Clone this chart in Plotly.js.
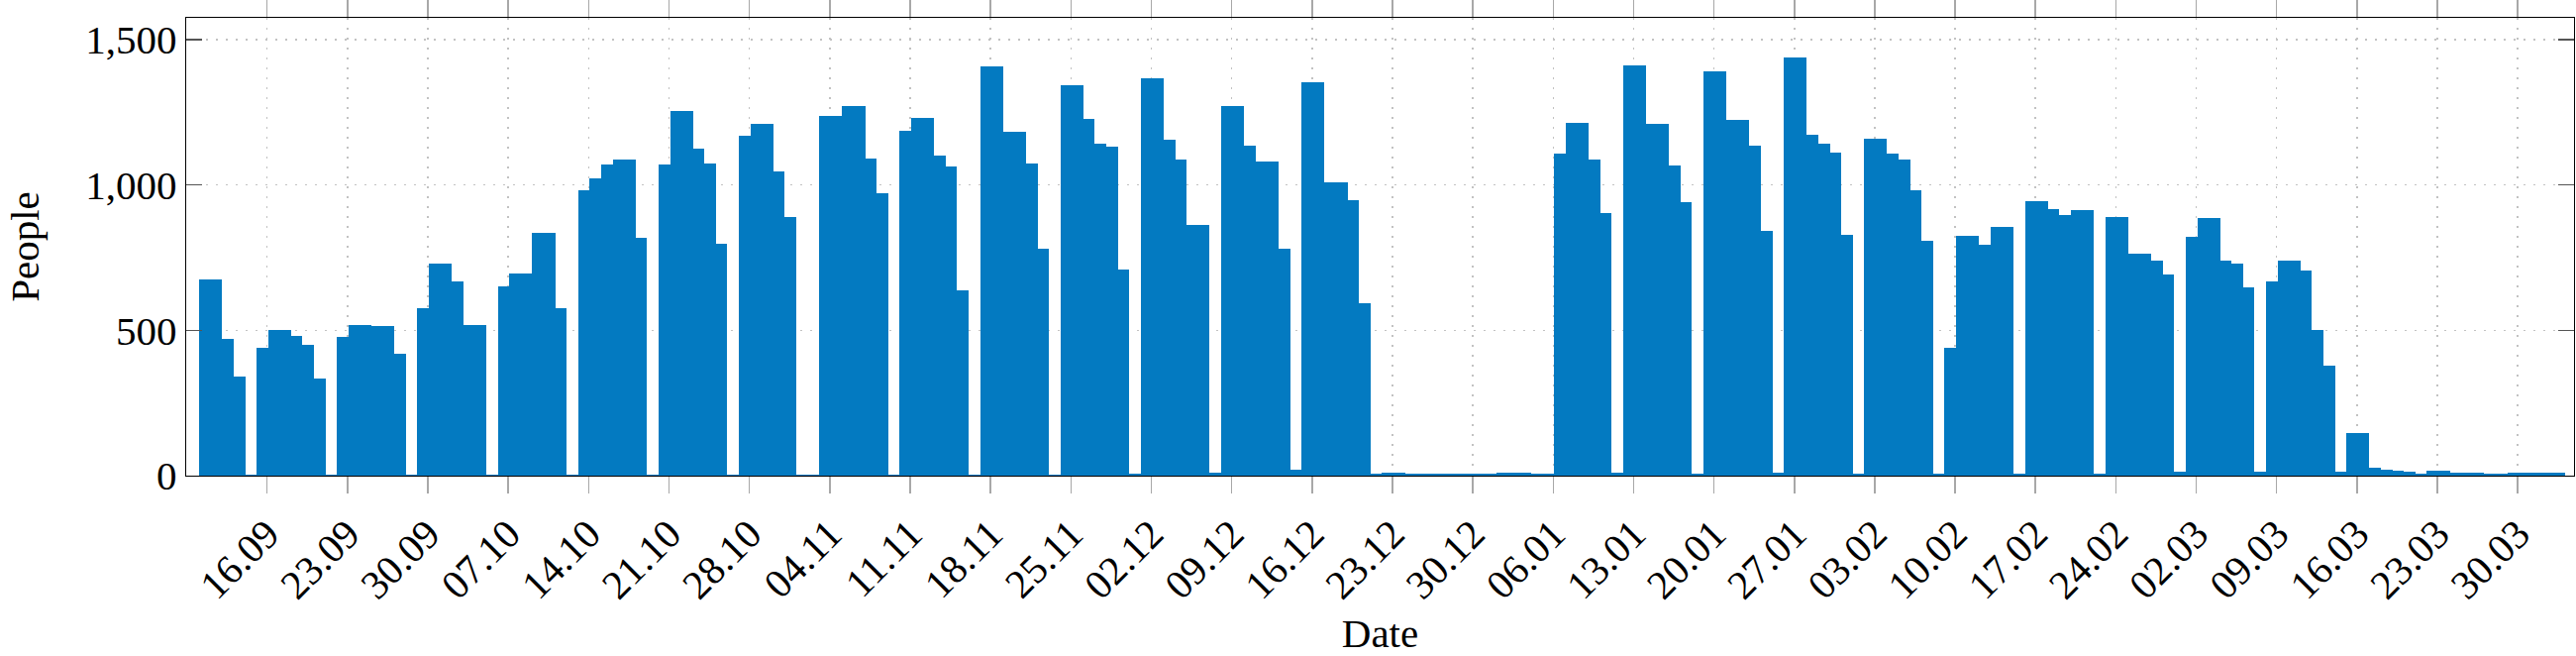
<!DOCTYPE html>
<html>
<head>
<meta charset="utf-8">
<script src="https://cdn.plot.ly/plotly-3.0.1.min.js"></script>
<style>
  html, body { margin: 0; padding: 0; background: #fff; }
  #chart { width: 2601px; height: 662px; }
</style>
</head>
<body>
<div id="chart"></div>
<script>
// Daily values (people)
const sep2019Start = '2019-09-10';
const sep2019 = [675,675,471,342,5,441,500,500,480,451,335,5,476,517,517,514,514,421,5,575,730];
const oct2019 = [730,667,517,517,5,651,695,695,835,835,576,5,983,1023,1070,1088,1088,819,5,1069,1256,1256,1126,1073,799,5,1170,1211,1211,1045,891];
const nov2019 = [5,5,1236,1236,1273,1273,1091,970,5,1185,1231,1231,1102,1063,636,5,1407,1407,1182,1182,1073,782,5,1343,1343,1226,1141,1131,708,8];
const dec2019 = [1368,1368,1154,1089,863,863,11,1272,1272,1134,1079,1079,779,19,1352,1352,1009,1009,947,592,8,10,10,7,7,7,7,7,7,7,7];
const jan2020 = [11,11,11,8,8,1108,1213,1213,1089,902,10,1412,1412,1210,1210,1068,941,8,1392,1392,1224,1224,1136,841,10,1437,1437,1172,1142,1112,830];
const feb2020 = [8,1158,1158,1108,1089,983,807,7,440,825,825,796,855,855,7,945,945,918,898,914,914,7,889,889,764,764,740,693,12];
const mar2020 = [822,886,886,741,731,648,12,668,741,741,705,501,378,12,147,147,26,20,17,13,7,16,16,11,10,10,7,7,9,9,11];
const apr2020 = [11,9];

const yTickVals = [0, 500, 1000, 1500];
const xFirstTick = '2019-09-16';
const xLastTick = '2020-03-30';
const xRange = ['2019-09-08 22:48', '2020-04-03 21:36'];

const DAY = 86400000;

// consecutive calendar days, one value per day
const people = [].concat(sep2019, oct2019, nov2019, dec2019, jan2020, feb2020, mar2020, apr2020);
const dates = [];
{
  const d0 = new Date(sep2019Start + 'T00:00:00Z').getTime();
  for (let i = 0; i < people.length; i++) {
    dates.push(new Date(d0 + i * DAY).toISOString().slice(0, 10));
  }
}
// weekly (Monday) ticks
const xTickVals = [];
{
  const t0 = new Date(xFirstTick + 'T00:00:00Z').getTime();
  const t1 = new Date(xLastTick + 'T00:00:00Z').getTime();
  for (let t = t0; t <= t1; t += 7 * DAY) {
    xTickVals.push(new Date(t).toISOString().slice(0, 10));
  }
}

const font = { family: 'Liberation Serif, DejaVu Serif, serif', size: 41, color: '#000' };

const trace = {
  type: 'bar',
  x: dates,
  y: people,
  width: DAY,
  offset: DAY / 12,
  marker: { color: '#037AC1', line: { width: 0 } },
  hoverinfo: 'skip'
};

const layout = {
  width: 2601,
  height: 662,
  margin: { l: 188, r: 2, t: 18, b: 182 },
  paper_bgcolor: '#fff',
  plot_bgcolor: '#fff',
  showlegend: false,
  bargap: 0,
  font: font,
  xaxis: {
    type: 'date',
    range: xRange,
    tickmode: 'array',
    tickvals: xTickVals,
    tickformat: '%d.%m',
    tickangle: -45,
    ticks: 'outside',
    ticklen: 17,
    tickwidth: 1.5,
    tickcolor: '#a8a8a8',
    showline: true,
    linecolor: '#000',
    linewidth: 1.4,
    mirror: 'ticks',
    showgrid: true,
    gridcolor: '#c2c2c2',
    gridwidth: 1.5,
    griddash: '2px,8px',
    zeroline: false,
    layer: 'below traces',
    tickfont: font,
    automargin: false,
    title: { text: 'Date', font: font, standoff: 16 }
  },
  yaxis: {
    range: [0, 1575],
    tickvals: yTickVals,
    separatethousands: true,
    ticks: 'inside',
    ticklen: 16,
    tickwidth: 1.3,
    tickcolor: '#555',
    showline: true,
    linecolor: '#000',
    linewidth: 1.4,
    mirror: 'ticks',
    showgrid: true,
    gridcolor: '#c2c2c2',
    gridwidth: 1.5,
    griddash: '2px,8px',
    zeroline: false,
    tickfont: font,
    automargin: false,
    title: { text: 'People', font: font, standoff: 34 }
  }
};

Plotly.newPlot('chart', [trace], layout, { staticPlot: true, displayModeBar: false });
</script>
</body>
</html>
